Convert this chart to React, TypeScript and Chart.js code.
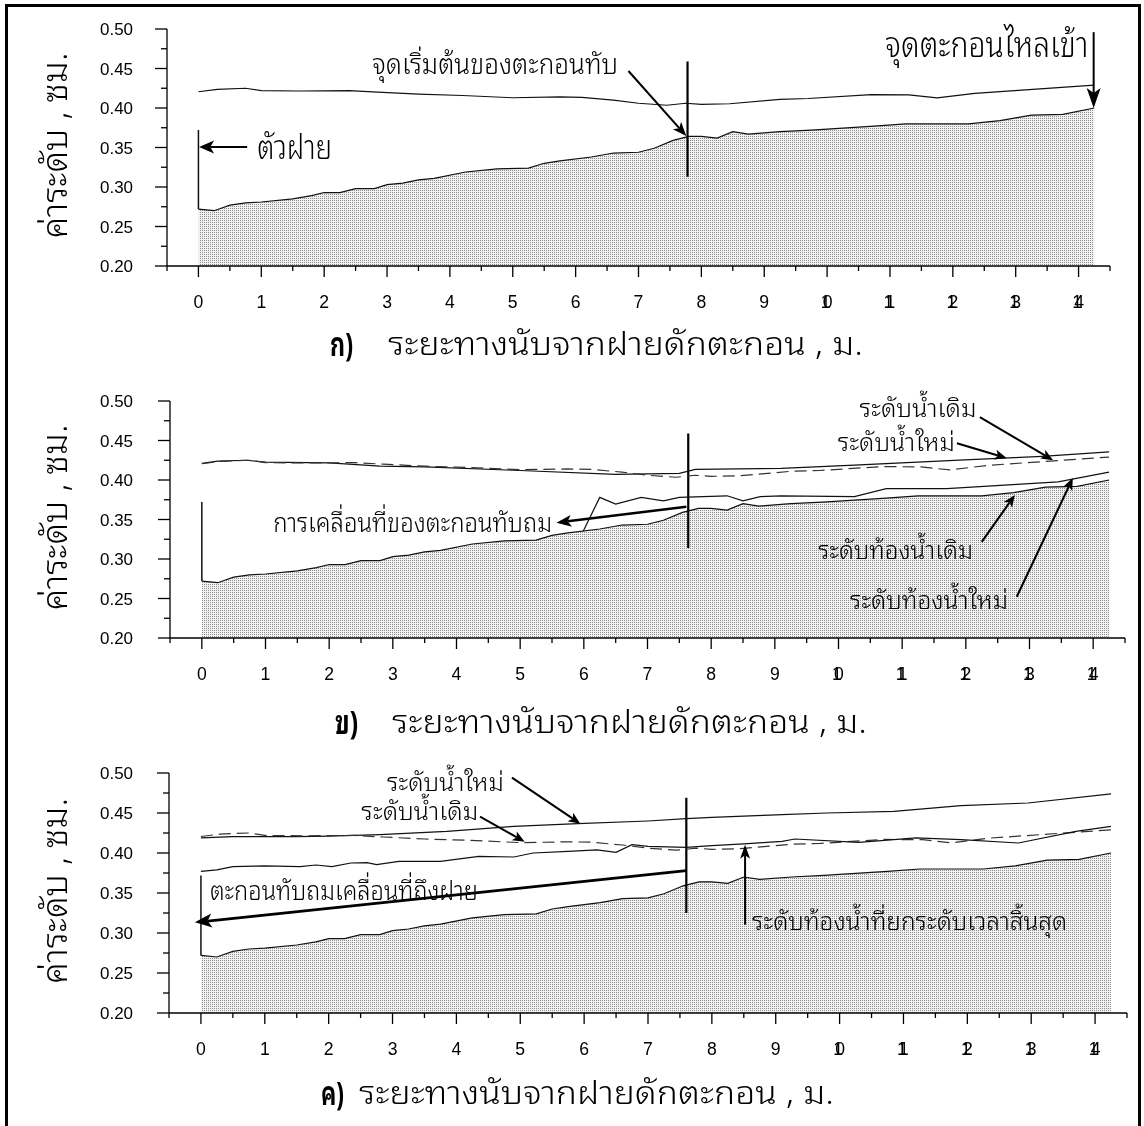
import React, { useEffect, useRef } from 'react';
import { Chart, registerables } from 'chart.js';

Chart.register(...registerables);

// ---------------- chart values ----------------
// original bed (shared by all three panels, stippled)
const OLD_BED_X = [0, 0.25, 0.5, 0.75, 1.0, 1.5, 1.8, 2.0, 2.25, 2.5, 2.8, 3.0, 3.25, 3.5, 3.75, 4.25, 4.75, 5.25, 5.5, 5.75, 6.25, 6.6, 7.0, 7.25, 7.55, 7.8, 8.0, 8.25, 8.5, 8.75, 9.25, 9.75, 10.75, 11.25, 12.25, 12.75, 13.25, 13.75, 14.25];
const OLD_BED_Y = [0.272, 0.270, 0.277, 0.280, 0.281, 0.285, 0.289, 0.293, 0.293, 0.298, 0.298, 0.303, 0.305, 0.309, 0.311, 0.319, 0.323, 0.324, 0.330, 0.333, 0.338, 0.343, 0.344, 0.349, 0.359, 0.364, 0.364, 0.362, 0.370, 0.367, 0.370, 0.372, 0.377, 0.380, 0.380, 0.384, 0.391, 0.392, 0.400];

// original water surface (solid in ก, dashed in ข and ค)
const OLD_WATER_X = [0, 0.3, 0.75, 1.0, 1.6, 2.4, 2.85, 3.5, 4.2, 5.0, 5.75, 6.1, 6.6, 7.0, 7.45, 7.75, 8.0, 8.45, 9.25, 9.7, 10.7, 11.3, 11.75, 12.35, 14.25];
const OLD_WATER_Y = [0.4206, 0.4236, 0.425, 0.422, 0.4215, 0.422, 0.420, 0.4175, 0.4158, 0.413, 0.414, 0.4135, 0.410, 0.406, 0.4035, 0.406, 0.4046, 0.4054, 0.411, 0.412, 0.417, 0.4166, 0.4127, 0.4186, 0.429];

// panel ข : new water surface and new bed
const NEW_WATER_B_X = [0, 0.25, 0.7, 1.0, 2.0, 2.8, 3.5, 5.0, 6.5, 7.5, 7.75, 9.1, 10.25, 11.9, 13.2, 14.25];
const NEW_WATER_B_Y = [0.421, 0.424, 0.425, 0.4226, 0.4218, 0.4176, 0.4165, 0.412, 0.407, 0.4083, 0.4134, 0.4147, 0.4188, 0.4251, 0.430, 0.4356];
const NEW_BED_B_X = [5.99, 6.25, 6.5, 6.9, 7.25, 7.5, 8.25, 8.5, 8.77, 9.1, 10.25, 10.75, 11.7, 13.45, 14.25];
const NEW_BED_B_Y = [0.335, 0.378, 0.3696, 0.378, 0.3737, 0.378, 0.380, 0.3737, 0.379, 0.380, 0.379, 0.389, 0.389, 0.3977, 0.410];

// panel ค : new water surface and raised bed at the end time
const NEW_WATER_C_X = [0, 0.5, 1.5, 2.0, 2.8, 3.85, 4.9, 5.9, 7.0, 7.6, 8.0, 9.1, 9.8, 10.85, 11.9, 12.95, 14.25];
const NEW_WATER_C_Y = [0.419, 0.4205, 0.4205, 0.421, 0.4229, 0.427, 0.4333, 0.4366, 0.440, 0.4429, 0.4445, 0.4479, 0.450, 0.452, 0.4591, 0.4625, 0.474];
const RAISED_BED_C_X = [0, 0.25, 0.5, 1.0, 1.55, 1.8, 2.05, 2.35, 2.6, 2.75, 3.1, 3.75, 4.35, 4.9, 5.2, 5.75, 6.2, 6.5, 6.75, 7.0, 7.6, 8.0, 8.5, 9.1, 9.3, 10.3, 11.2, 11.9, 12.8, 13.7, 14.25];
const RAISED_BED_C_Y = [0.377, 0.379, 0.383, 0.384, 0.383, 0.385, 0.383, 0.3875, 0.388, 0.3854, 0.3896, 0.3896, 0.3958, 0.395, 0.400, 0.402, 0.404, 0.4008, 0.4104, 0.4083, 0.4071, 0.4091, 0.4113, 0.4146, 0.4175, 0.4133, 0.4188, 0.4166, 0.4125, 0.427, 0.4333];

// weir (x = 0) and deposit-front marker per panel
const WEIR_X = 0;
const WEIR_LEVELS = [0.372, 0.272];
const MARK_X = [7.78, 7.64, 7.6];
const MARK_TOP = [0.459, 0.459, 0.469];
const MARK_BOTTOM = [0.313, 0.314, 0.325];

// axes
const X_RANGE = [-0.5, 14.5];
const Y_RANGE = [0.2, 0.5];
const X_TICK_VALUES = [0, 1, 2, 3, 4, 5, 6, 7, 8, 9, 10, 11, 12, 13, 14];
const X_TICK_LABELS = ['0', '1', '2', '3', '4', '5', '6', '7', '8', '9', '10', '11', '12', '13', '14'];
const Y_TICK_VALUES = [0.2, 0.25, 0.3, 0.35, 0.4, 0.45, 0.5];
const Y_TICK_LABELS = ['0.20', '0.25', '0.30', '0.35', '0.40', '0.45', '0.50'];
const Y_TITLE = 'ค่าระดับ , ซม.';
const X_TITLE = 'ระยะทางนับจากฝายดักตะกอน , ม.';
const PANEL_TAGS = ['ก)', 'ข)', 'ค)'];

// ---------------- layout / styling ----------------
const THAI = "'Noto Sans Thai Looped', 'Noto Serif Thai', 'Noto Sans Thai', 'Noto Sans Thai UI', Loma, Garuda, Kinnari, Norasi, Waree, Sawasdee, 'TH Sarabun New', sans-serif";
const DIGIT = "'Liberation Sans', Arial, sans-serif";
const W = 1144;

type Txt = { t: string; x: number; y: number; body: number; w: number };
type Arr = { x1: number; y1: number; x2: number; y2: number; lw: number; hl: number; hw: number };
type Geom = { top: number; height: number; left: number; right: number; plotTop: number; plotBottom: number; tagX: number; titleX: number; titleCY: number; titleW: number };

const GEOMS: Geom[] = [
  { top: 0, height: 372, left: 167, right: 1110, plotTop: 29, plotBottom: 266, tagX: 330, titleX: 388, titleCY: 346, titleW: 475 },
  { top: 372, height: 372, left: 170, right: 1125, plotTop: 29, plotBottom: 266, tagX: 335, titleX: 392, titleCY: 352, titleW: 475 },
  { top: 744, height: 382, left: 169, right: 1127, plotTop: 29, plotBottom: 269, tagX: 321, titleX: 359, titleCY: 351, titleW: 475 },
];

const TEXTS: Txt[][] = [
  [
    { t: 'ตัวฝาย', x: 0.934, y: 0.3475, body: 19, w: 75 },
    { t: 'จุดเริ่มต้นของตะกอนทับ', x: 2.764, y: 0.453, body: 15.5, w: 246 },
    { t: 'จุดตะกอนไหลเข้า', x: 10.926, y: 0.4776, body: 20, w: 203 },
  ],
  [
    { t: 'การเคลื่อนที่ของตะกอนทับถม', x: 1.12, y: 0.3443, body: 15, w: 279 },
    { t: 'ระดับน้ำเดิม', x: 10.33, y: 0.4883, body: 14, w: 117 },
    { t: 'ระดับน้ำใหม่', x: 9.99, y: 0.445, body: 14, w: 117 },
    { t: 'ระดับท้องน้ำเดิม', x: 9.68, y: 0.3093, body: 14, w: 155 },
    { t: 'ระดับท้องน้ำใหม่', x: 10.18, y: 0.2452, body: 14, w: 158 },
  ],
  [
    { t: 'ระดับน้ำใหม่', x: 2.913, y: 0.4866, body: 14, w: 117 },
    { t: 'ระดับน้ำเดิม', x: 2.51, y: 0.45, body: 14, w: 117 },
    { t: 'ตะกอนทับถมเคลื่อนที่ถึงฝาย', x: 0.141, y: 0.351, body: 15, w: 268 },
    { t: 'ระดับท้องน้ำที่ยกระดับเวลาสิ้นสุด', x: 8.63, y: 0.3125, body: 14, w: 315 },
  ],
];

const ARROWS: Arr[][] = [
  [
    { x1: 0.775, y1: 0.3506, x2: 0.01, y2: 0.3506, lw: 2, hl: 15, hw: 6.5 },
    { x1: 6.84, y1: 0.4468, x2: 7.76, y2: 0.3646, lw: 2, hl: 14, hw: 5.5 },
    { x1: 14.24, y1: 0.496, x2: 14.24, y2: 0.4, lw: 2, hl: 20, hw: 7 },
  ],
  [
    { x1: 7.61, y1: 0.366, x2: 5.57, y2: 0.346, lw: 2.5, hl: 15, hw: 6 },
    { x1: 12.22, y1: 0.4795, x2: 13.37, y2: 0.4251, lw: 2, hl: 12, hw: 5 },
    { x1: 11.86, y1: 0.4466, x2: 12.64, y2: 0.4277, lw: 2, hl: 12, hw: 5 },
    { x1: 12.25, y1: 0.3216, x2: 12.77, y2: 0.381, lw: 2, hl: 12, hw: 5 },
    { x1: 12.8, y1: 0.2522, x2: 13.68, y2: 0.4024, lw: 2, hl: 12, hw: 5 },
  ],
  [
    { x1: 4.87, y1: 0.4942, x2: 5.94, y2: 0.4366, lw: 2, hl: 12, hw: 5 },
    { x1: 4.37, y1: 0.4454, x2: 5.07, y2: 0.4141, lw: 2, hl: 12, hw: 5 },
    { x1: 7.6, y1: 0.3779, x2: -0.094, y2: 0.3133, lw: 2.8, hl: 17, hw: 7 },
    { x1: 8.52, y1: 0.3104, x2: 8.52, y2: 0.4104, lw: 2, hl: 14, hw: 5 },
  ],
];

// ---------------- helpers ----------------
function pts(xs: number[], ys: number[]) {
  return xs.map((x, i) => ({ x, y: ys[i] }));
}

type FitOpts = {
  text: string; x: number; cy: number; body: number; width: number; family: string;
  weight?: string; align?: 'left' | 'center' | 'right'; sample: string; rotate?: boolean;
};

function drawFitted(ctx: CanvasRenderingContext2D, o: FitOpts) {
  const weight = o.weight || 'normal';
  ctx.save();
  ctx.font = `${weight} 100px ${o.family}`;
  const m = ctx.measureText(o.sample);
  const ratio = (m.actualBoundingBoxAscent + m.actualBoundingBoxDescent) / 100 || 0.7;
  const size = o.body / ratio;
  ctx.font = `${weight} ${size}px ${o.family}`;
  const ms = ctx.measureText(o.sample);
  const natural = ctx.measureText(o.text).width;
  const width = o.width > 0 ? o.width : natural;
  const sx = width / natural;
  const baseOffset = (ms.actualBoundingBoxAscent - ms.actualBoundingBoxDescent) / 2;
  ctx.textBaseline = 'alphabetic';
  ctx.textAlign = 'left';
  ctx.fillStyle = '#000';
  ctx.translate(o.x, o.cy);
  if (o.rotate) ctx.rotate(-Math.PI / 2);
  let sx0 = 0;
  if (o.align === 'center') sx0 = -width / 2;
  else if (o.align === 'right') sx0 = -width;
  ctx.translate(sx0, baseOffset);
  ctx.scale(sx, 1);
  ctx.fillText(o.text, 0, 0);
  ctx.restore();
}

function drawArrow(ctx: CanvasRenderingContext2D, x1: number, y1: number, x2: number, y2: number, lw: number, hl: number, hw: number) {
  const dx = x2 - x1, dy = y2 - y1;
  const len = Math.hypot(dx, dy) || 1;
  const ux = dx / len, uy = dy / len;
  const bx = x2 - ux * hl, by = y2 - uy * hl;
  const nx = x2 - ux * hl * 0.75, ny = y2 - uy * hl * 0.75;
  ctx.save();
  ctx.strokeStyle = '#000';
  ctx.fillStyle = '#000';
  ctx.lineWidth = lw;
  ctx.beginPath();
  ctx.moveTo(x1, y1);
  ctx.lineTo(nx, ny);
  ctx.stroke();
  ctx.beginPath();
  ctx.moveTo(x2, y2);
  ctx.lineTo(bx - uy * hw, by + ux * hw);
  ctx.lineTo(nx, ny);
  ctx.lineTo(bx + uy * hw, by - ux * hw);
  ctx.closePath();
  ctx.fill();
  ctx.restore();
}

function seg(ctx: CanvasRenderingContext2D, x1: number, y1: number, x2: number, y2: number) {
  ctx.beginPath();
  ctx.moveTo(x1, y1);
  ctx.lineTo(x2, y2);
  ctx.stroke();
}

const THAI_WEIGHT = '300';

function makeDecor(idx: number) {
  return {
    id: 'decor' + idx,
    afterDatasetsDraw(chart: any) {
      const ctx: CanvasRenderingContext2D = chart.ctx;
      const xs = chart.scales.x, ys = chart.scales.y;
      const g = GEOMS[idx];
      const L = xs.getPixelForValue(X_RANGE[0]);
      const R = xs.getPixelForValue(X_RANGE[1]);
      const B = ys.getPixelForValue(Y_RANGE[0]);
      const T = ys.getPixelForValue(Y_RANGE[1]);
      ctx.save();
      ctx.strokeStyle = '#000';
      ctx.lineWidth = 1.3;
      seg(ctx, L, T, L, B);
      seg(ctx, L, B, R, B);
      // y ticks (major every 0.05, minor every 0.025)
      const yStep = (Y_TICK_VALUES[1] - Y_TICK_VALUES[0]) / 2;
      const nY = Math.round((Y_RANGE[1] - Y_RANGE[0]) / yStep);
      for (let k = 0; k <= nY; k++) {
        const py = ys.getPixelForValue(Y_RANGE[0] + k * yStep);
        seg(ctx, L - (k % 2 === 0 ? 12 : 6), py, L, py);
      }
      // x ticks (major every 1, minor every 0.5)
      const nX = Math.round((X_RANGE[1] - X_RANGE[0]) / 0.5);
      for (let k = 0; k <= nX; k++) {
        const v = X_RANGE[0] + k * 0.5;
        const px = xs.getPixelForValue(v);
        seg(ctx, px, B, px, B + (Number.isInteger(v) ? 11 : 5));
      }
      ctx.restore();

      // y tick labels
      Y_TICK_VALUES.forEach((v, i) => {
        drawFitted(ctx, { text: Y_TICK_LABELS[i], x: 133, cy: ys.getPixelForValue(v), body: 11.5, width: 33, family: DIGIT, align: 'right', sample: '0' });
      });
      // x tick labels
      X_TICK_VALUES.forEach((v, i) => {
        const px = xs.getPixelForValue(v);
        const lab = X_TICK_LABELS[i];
        const cy = B + 35;
        if (lab.length === 1) {
          drawFitted(ctx, { text: lab, x: px, cy, body: 12.5, width: 0, family: DIGIT, align: 'center', sample: '0' });
        } else {
          // two-digit labels are squeezed so the digits overlap, as in the scan
          drawFitted(ctx, { text: lab[0], x: px - 1.5, cy, body: 12.5, width: 0, family: DIGIT, align: 'center', sample: '0' });
          drawFitted(ctx, { text: lab[1], x: px + 0.5, cy, body: 12.5, width: 0, family: DIGIT, align: 'center', sample: '0' });
        }
      });
      // axis titles
      drawFitted(ctx, { text: Y_TITLE, x: 57, cy: (T + B) / 2 - 2, body: 20, width: 186, family: THAI, weight: THAI_WEIGHT, align: 'center', sample: 'ค', rotate: true });
      drawFitted(ctx, { text: PANEL_TAGS[idx], x: g.tagX, cy: g.titleCY, body: 18.3, width: 23, family: THAI, weight: 'bold', sample: 'ก' });
      drawFitted(ctx, { text: X_TITLE, x: g.titleX, cy: g.titleCY, body: 18.3, width: g.titleW, family: THAI, weight: THAI_WEIGHT, sample: 'ก' });

      // annotations
      ARROWS[idx].forEach((a) => {
        drawArrow(ctx, xs.getPixelForValue(a.x1), ys.getPixelForValue(a.y1), xs.getPixelForValue(a.x2), ys.getPixelForValue(a.y2), a.lw, a.hl, a.hw);
      });
      TEXTS[idx].forEach((t) => {
        drawFitted(ctx, { text: t.t, x: xs.getPixelForValue(t.x), cy: ys.getPixelForValue(t.y), body: t.body, width: t.w, family: THAI, weight: THAI_WEIGHT, sample: 'ก' });
      });
    },
  };
}

function Panel({ idx }: { idx: number }) {
  const ref = useRef<HTMLCanvasElement | null>(null);
  const g = GEOMS[idx];
  useEffect(() => {
    const canvas = ref.current;
    if (!canvas) return;
    const ctx = canvas.getContext('2d')!;
    // fine stipple like the scanned dot screen
    const pc = document.createElement('canvas');
    pc.width = 2;
    pc.height = 2;
    const pg = pc.getContext('2d')!;
    pg.fillStyle = '#f2f2f2';
    pg.fillRect(0, 0, 2, 2);
    pg.fillStyle = '#8e8e8e';
    pg.fillRect(0, 0, 1, 1);
    const pattern = ctx.createPattern(pc, 'repeat');

    const line = (data: any[], extra: any = {}) => ({
      data, borderColor: '#111', borderWidth: 1.2, fill: false, pointRadius: 0, tension: 0, order: 1, ...extra,
    });
    const datasets: any[] = [
      line(pts(OLD_BED_X, OLD_BED_Y), { fill: 'start', backgroundColor: pattern, order: 5, label: 'bed' }),
    ];
    if (idx === 0) {
      datasets.push(line(pts(OLD_WATER_X, OLD_WATER_Y), { label: 'water' }));
    } else if (idx === 1) {
      datasets.push(line(pts(NEW_BED_B_X, NEW_BED_B_Y), { label: 'new bed' }));
      datasets.push(line(pts(OLD_WATER_X, OLD_WATER_Y), { label: 'old water', borderDash: [12, 6], borderColor: '#333' }));
      datasets.push(line(pts(NEW_WATER_B_X, NEW_WATER_B_Y), { label: 'new water' }));
    } else {
      datasets.push(line(pts(RAISED_BED_C_X, RAISED_BED_C_Y), { label: 'raised bed' }));
      datasets.push(line(pts(OLD_WATER_X, OLD_WATER_Y), { label: 'old water', borderDash: [12, 6], borderColor: '#333' }));
      datasets.push(line(pts(NEW_WATER_C_X, NEW_WATER_C_Y), { label: 'new water' }));
    }
    datasets.push(line([{ x: WEIR_X, y: WEIR_LEVELS[0] }, { x: WEIR_X, y: WEIR_LEVELS[1] }], { label: 'weir', borderWidth: 1.5 }));
    datasets.push(line([{ x: MARK_X[idx], y: MARK_TOP[idx] }, { x: MARK_X[idx], y: MARK_BOTTOM[idx] }], { label: 'front', borderWidth: 2.2, borderColor: '#000' }));

    const chart = new Chart(canvas, {
      type: 'line',
      data: { datasets },
      options: {
        responsive: false,
        animation: false,
        devicePixelRatio: 1,
        events: [],
        layout: { padding: { left: g.left, right: W - g.right, top: g.plotTop, bottom: g.height - g.plotBottom } },
        scales: {
          x: { type: 'linear', min: X_RANGE[0], max: X_RANGE[1], display: false },
          y: { type: 'linear', min: Y_RANGE[0], max: Y_RANGE[1], display: false },
        },
        plugins: { legend: { display: false }, tooltip: { enabled: false }, filler: { drawTime: 'beforeDatasetsDraw' } } as any,
        elements: { point: { radius: 0 }, line: { tension: 0 } },
      },
      plugins: [makeDecor(idx)],
    } as any);
    return () => chart.destroy();
  }, [idx]);
  return (
    <canvas
      ref={ref}
      width={W}
      height={g.height}
      style={{ position: 'absolute', left: 0, top: g.top, width: W, height: g.height }}
    />
  );
}

export default function App() {
  return (
    <div style={{ position: 'absolute', left: 0, top: 0, width: W, height: 1126, overflow: 'hidden', background: '#fff' }}>
      <Panel idx={0} />
      <Panel idx={1} />
      <Panel idx={2} />
      <div style={{ position: 'absolute', left: 5, top: 4, width: 1136, height: 1200, border: '3px solid #000', boxSizing: 'border-box', pointerEvents: 'none' }} />
    </div>
  );
}
